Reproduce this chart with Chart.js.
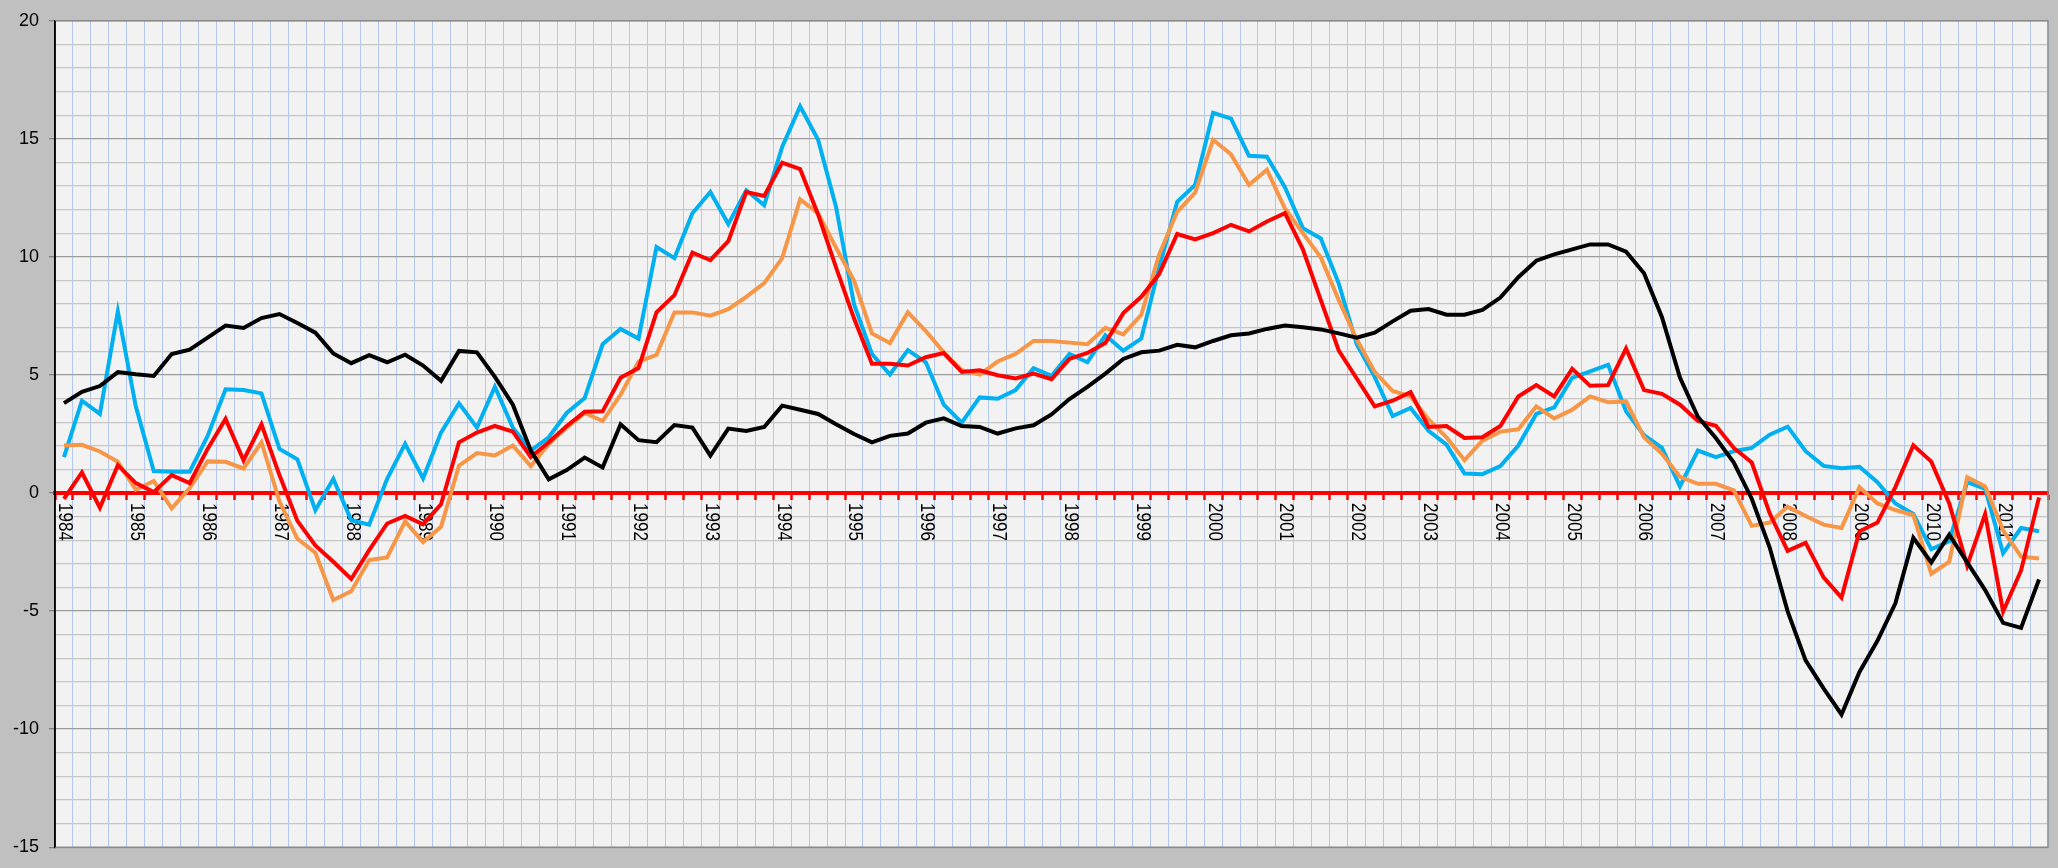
<!DOCTYPE html>
<html>
<head>
<meta charset="utf-8">
<script src="https://cdn.jsdelivr.net/npm/chart.js@4.4.1/dist/chart.umd.min.js"></script>
<style>
  html, body { margin: 0; padding: 0; background: #c0c0c0; }
  #wrap { width: 2058px; height: 868px; }
</style>
</head>
<body>
<div id="wrap"><canvas id="chart" width="2058" height="868"></canvas></div>
<script>
// quarterly series, 1984 Q1 .. 2011 Q3
const years = [1984, 1985, 1986, 1987, 1988, 1989, 1990, 1991, 1992, 1993, 1994, 1995, 1996, 1997,
    1998, 1999, 2000, 2001, 2002, 2003, 2004, 2005, 2006, 2007, 2008, 2009, 2010, 2011];
const quarterNames = ["Q1", "Q2", "Q3", "Q4"];
const lastQuarterCount = 3; // 2011 stops at Q3

const blueSeries = [
    1.52, 3.91, 3.35, 7.69, 3.67, 0.93, 0.90, 0.90, 2.42, 4.39, 4.36, 4.22, 1.87, 1.43, -0.73, 0.60,
    -1.15, -1.34, 0.60, 2.08, 0.62, 2.56, 3.80, 2.77, 4.50, 2.77, 1.80, 2.36, 3.39, 4.02, 6.30, 6.95,
    6.54, 10.42, 9.95, 11.85, 12.75, 11.39, 12.82, 12.19, 14.66, 16.38, 14.96, 12.12, 8.00, 5.89, 5.02, 6.05,
    5.54, 3.74, 2.98, 4.05, 3.99, 4.36, 5.29, 4.96, 5.89, 5.54, 6.68, 6.03, 6.54, 9.56, 12.33, 13.05,
    16.10, 15.86, 14.28, 14.24, 12.95, 11.22, 10.78, 8.87, 6.30, 4.92, 3.26, 3.60, 2.63, 2.05, 0.83, 0.80,
    1.14, 2.01, 3.35, 3.63, 4.88, 5.15, 5.43, 3.46, 2.45, 1.91, 0.28, 1.80, 1.52, 1.77, 1.91, 2.47,
    2.81, 1.77, 1.15, 1.05, 1.11, 0.46, -0.44, -0.89, -2.38, -2.04, 0.46, 0.18, -2.55, -1.48, -1.62
];
const orangeSeries = [
    2.01, 2.04, 1.76, 1.32, 0.14, 0.51, -0.65, 0.21, 1.34, 1.32, 1.04, 2.15, -0.35, -1.94, -2.53, -4.53,
    -4.16, -2.84, -2.73, -1.20, -2.08, -1.43, 1.16, 1.69, 1.59, 2.01, 1.14, 2.08, 2.77, 3.39, 3.05, 4.16,
    5.57, 5.85, 7.65, 7.65, 7.51, 7.79, 8.31, 8.89, 9.95, 12.44, 11.85, 10.39, 9.00, 6.76, 6.35, 7.65,
    6.86, 5.96, 5.20, 5.02, 5.57, 5.89, 6.44, 6.44, 6.37, 6.30, 7.00, 6.72, 7.55, 10.11, 11.91, 12.72,
    14.96, 14.34, 13.05, 13.69, 12.05, 11.01, 9.98, 8.17, 6.51, 5.13, 4.32, 4.09, 3.12, 2.36, 1.39, 2.22,
    2.60, 2.70, 3.67, 3.16, 3.53, 4.09, 3.85, 3.88, 2.36, 1.66, 0.69, 0.39, 0.39, 0.11, -1.39, -1.25,
    -0.58, -0.97, -1.34, -1.48, 0.25, -0.44, -0.72, -0.93, -3.42, -2.91, 0.67, 0.28, -1.58, -2.69, -2.77
];
const redSeries = [
    -0.25, 0.87, -0.62, 1.18, 0.42, 0.04, 0.76, 0.42, 1.87, 3.14, 1.39, 2.91, 0.76, -1.18, -2.22, -2.91,
    -3.64, -2.42, -1.29, -0.97, -1.32, -0.48, 2.15, 2.56, 2.84, 2.60, 1.52, 2.15, 2.84, 3.44, 3.46, 4.88,
    5.29, 7.65, 8.38, 10.18, 9.86, 10.67, 12.75, 12.58, 13.99, 13.72, 11.80, 9.56, 7.40, 5.47, 5.47, 5.40,
    5.75, 5.93, 5.13, 5.20, 4.99, 4.85, 5.06, 4.82, 5.68, 5.93, 6.35, 7.62, 8.31, 9.28, 10.97, 10.74,
    11.01, 11.36, 11.08, 11.50, 11.85, 10.32, 8.17, 6.03, 4.85, 3.67, 3.91, 4.27, 2.80, 2.84, 2.33, 2.36,
    2.84, 4.09, 4.57, 4.09, 5.26, 4.54, 4.57, 6.12, 4.36, 4.20, 3.74, 3.05, 2.85, 1.91, 1.29, -0.86,
    -2.45, -2.11, -3.57, -4.43, -1.62, -1.25, 0.25, 2.02, 1.33, -0.44, -3.08, -0.89, -5.02, -3.28, -0.19
];
const blackSeries = [
    3.81, 4.29, 4.53, 5.12, 5.03, 4.96, 5.89, 6.07, 6.58, 7.09, 6.99, 7.41, 7.58, 7.20, 6.79, 5.91,
    5.50, 5.84, 5.54, 5.86, 5.40, 4.75, 6.02, 5.96, 4.92, 3.74, 1.80, 0.58, 0.97, 1.50, 1.08, 2.91,
    2.24, 2.15, 2.88, 2.77, 1.59, 2.73, 2.63, 2.80, 3.70, 3.53, 3.35, 2.91, 2.50, 2.15, 2.42, 2.52,
    2.98, 3.16, 2.84, 2.80, 2.52, 2.74, 2.87, 3.33, 3.98, 4.50, 5.06, 5.68, 5.96, 6.03, 6.28, 6.17,
    6.44, 6.68, 6.76, 6.95, 7.09, 7.02, 6.93, 6.76, 6.58, 6.79, 7.27, 7.72, 7.79, 7.55, 7.55, 7.76,
    8.28, 9.14, 9.84, 10.11, 10.32, 10.53, 10.53, 10.22, 9.31, 7.45, 4.89, 3.23, 2.33, 1.29, -0.24, -2.31,
    -5.01, -7.09, -8.27, -9.38, -7.58, -6.26, -4.67, -1.90, -2.94, -1.76, -2.94, -4.11, -5.50, -5.71, -3.66
];

const yMin = -15;
const yMax = 20;
const yMajorStep = 5;

var categories = [];
years.forEach(function (yr, k) {
    var n = k === years.length - 1 ? lastQuarterCount : 4;
    for (var q = 0; q < n; q++) categories.push(yr + " " + quarterNames[q]);
});

// plot area fill and frame
const plotBackground = {
    id: "plotBackground",
    beforeDraw: function (chart) {
        const a = chart.chartArea;
        const ctx = chart.ctx;
        ctx.save();
        ctx.fillStyle = "#f2f2f2";
        ctx.fillRect(a.left, a.top, a.right - a.left, a.bottom - a.top);
        ctx.restore();
    },
    afterDraw: function (chart) {
        const a = chart.chartArea;
        const ctx = chart.ctx;
        ctx.save();
        ctx.strokeStyle = "#8a8a8a";
        ctx.lineWidth = 1.5;
        ctx.beginPath();
        ctx.moveTo(a.left, a.top);
        ctx.lineTo(a.right, a.top);
        ctx.lineTo(a.right, a.bottom);
        ctx.lineTo(a.left, a.bottom);
        ctx.stroke();
        ctx.strokeStyle = "#000";
        ctx.beginPath();
        ctx.moveTo(a.left, a.top);
        ctx.lineTo(a.left, a.bottom);
        ctx.stroke();
        ctx.restore();
    },
};

// year labels hang under the zero line, turned a quarter clockwise
const yearLabels = {
    id: "yearLabels",
    beforeDatasetsDraw: function (chart) {
        const xs = chart.scales.x;
        const ys = chart.scales.y;
        const ctx = chart.ctx;
        const y0 = ys.getPixelForValue(0) + 10;
        categories.forEach(function (c, i) {
            if (c.slice(-2) !== "Q1") return;
            ctx.save();
            ctx.font = "20px 'Liberation Sans', Arial, sans-serif";
            ctx.fillStyle = "#000";
            ctx.textAlign = "left";
            ctx.textBaseline = "middle";
            ctx.translate(xs.getPixelForValue(i) + 1, y0);
            ctx.rotate(Math.PI / 2);
            ctx.scale(0.85, 1); // rotated text in the original is a bit narrow
            ctx.fillText(c.slice(0, 4), 0, 0);
            ctx.restore();
        });
    },
};

function series(label, data, color, order) {
    return {
        label: label,
        data: data,
        borderColor: color,
        backgroundColor: color,
        borderWidth: 4,
        pointRadius: 0,
        tension: 0,
        fill: false,
        order: order,
    };
}

new Chart(document.getElementById("chart"), {
    type: "line",
    data: {
        labels: categories,
        datasets: [
            series("Series 1", blueSeries, "#00b0f0", 3),
            series("Series 2", orangeSeries, "#f79646", 2),
            series("Series 3", redSeries, "#ff0000", 1),
            series("Series 4", blackSeries, "#000000", 0),
        ],
    },
    options: {
        responsive: false,
        animation: false,
        devicePixelRatio: 1,
        layout: { padding: { left: 0, top: 14, right: 10, bottom: 12 } },
        plugins: { legend: { display: false }, tooltip: { enabled: false } },
        scales: {
            x: {
                type: "category",
                position: { y: 0 },
                offset: true,
                ticks: { display: false, autoSkip: false },
                grid: {
                    offset: true,
                    color: "#b3c8ee",
                    lineWidth: 1,
                    drawTicks: true,
                    tickLength: 5,
                    tickColor: "#ff0000",
                    tickWidth: 2.5,
                },
                border: { color: "#ff0000", width: 4 },
            },
            y: {
                min: yMin,
                max: yMax,
                afterFit: function (s) {
                    s.width = 55;
                },
                ticks: {
                    stepSize: 1,
                    autoSkip: false,
                    padding: 10,
                    color: "#000",
                    font: { family: "Liberation Sans", size: 18 },
                    callback: function (v) {
                        return v % yMajorStep === 0 ? v : "";
                    },
                },
                grid: {
                    lineWidth: 1.3,
                    tickLength: 6,
                    color: function (c) {
                        if (!c.tick) return "#c4c4c4";
                        if (c.tick.value === 0) return "rgba(0,0,0,0)";
                        return c.tick.value % yMajorStep === 0 ? "#9c9c9c" : "#c6c6c6";
                    },
                    tickColor: function (c) {
                        if (!c.tick) return "rgba(0,0,0,0)";
                        return c.tick.value % yMajorStep === 0 ? "#808080" : "rgba(0,0,0,0)";
                    },
                },
                border: { color: "#000", width: 1.5 },
            },
        },
    },
    plugins: [plotBackground, yearLabels],
});
</script>
</body>
</html>
